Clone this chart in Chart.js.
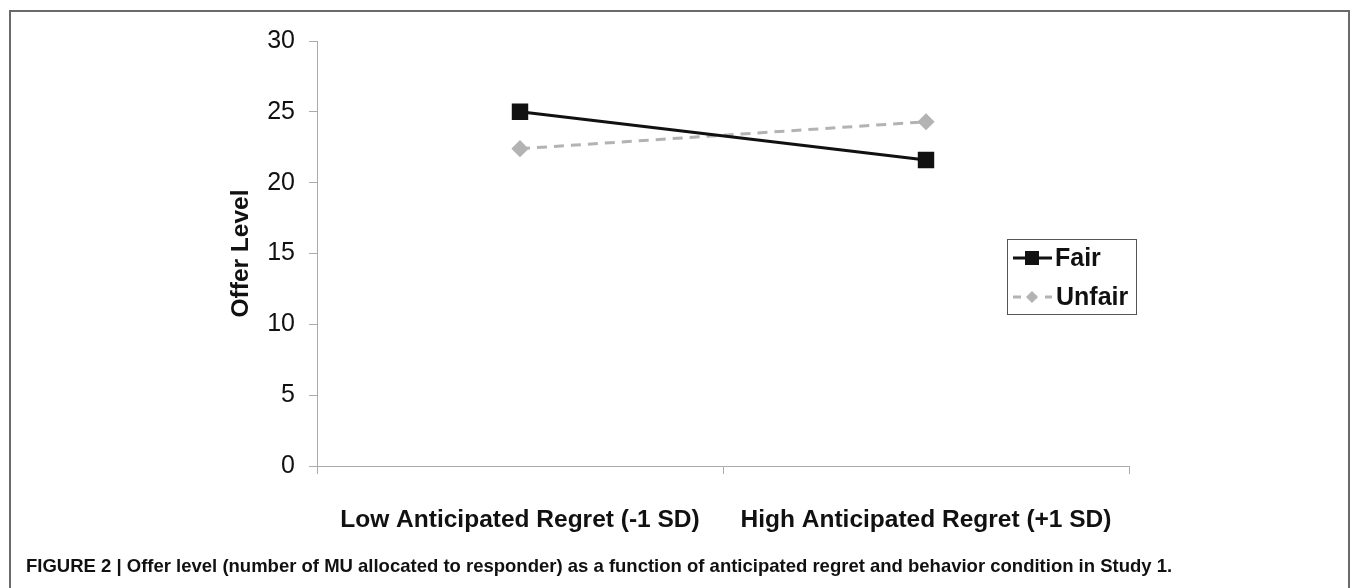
<!DOCTYPE html>
<html>
<head>
<meta charset="utf-8">
<script src="https://cdn.jsdelivr.net/npm/chart.js@4.4.0/dist/chart.umd.min.js"></script>
<style>
  html, body { margin: 0; padding: 0; background: #fff; }
  #wrap { position: relative; width: 1355px; height: 588px; overflow: hidden; }
  #frame {
    position: absolute; left: 9px; top: 10px; width: 1341px; height: 600px;
    border: 2px solid #6a6a6a; box-sizing: border-box;
  }
  #chart { position: absolute; left: 0; top: 0; }
  #caption {
    position: absolute; left: 26px; top: 555px;
    font: bold 18.5px "Liberation Sans", Arial, sans-serif; color: #111;
    white-space: nowrap; line-height: 22px;
  }
</style>
</head>
<body>
<div id="wrap">
  <div id="frame"></div>
  <canvas id="chart" width="1355" height="588"></canvas>
  <div id="caption">FIGURE 2 | Offer level (number of MU allocated to responder) as a function of anticipated regret and behavior condition in Study 1.</div>
</div>
<script>
const categories = ['Low Anticipated Regret (-1 SD)', 'High Anticipated Regret (+1 SD)'];
const fairValues = [25.0, 21.6];
const unfairValues = [22.4, 24.3];
const yTicks = [0, 5, 10, 15, 20, 25, 30];

const FONT = '"Liberation Sans", Arial, sans-serif';

// legend box drawn on top of the plot, like the original
const boxLegend = {
  id: 'boxLegend',
  afterDraw(chart) {
    const ctx = chart.ctx;
    const x = 1007, y = 239, w = 129, h = 75;
    ctx.save();
    ctx.fillStyle = '#fff';
    ctx.fillRect(x, y, w, h);
    ctx.strokeStyle = '#555';
    ctx.lineWidth = 1;
    ctx.strokeRect(x + 0.5, y + 0.5, w, h);
    chart.data.datasets.forEach((ds, i) => {
      const cy = y + 19 + i * 39;
      ctx.strokeStyle = ds.borderColor;
      ctx.lineWidth = 3;
      ctx.setLineDash(i === 0 ? [] : [8, 8]);
      ctx.beginPath();
      ctx.moveTo(x + 6, cy);
      ctx.lineTo(x + 45, cy);
      ctx.stroke();
      ctx.setLineDash([]);
      ctx.fillStyle = ds.pointBackgroundColor;
      ctx.beginPath();
      const px = x + 25;
      if (ds.pointStyle === 'rect') {
        ctx.rect(px - 7, cy - 7, 14, 14);
      } else {
        ctx.moveTo(px, cy - 6); ctx.lineTo(px + 6, cy);
        ctx.lineTo(px, cy + 6); ctx.lineTo(px - 6, cy);
        ctx.closePath();
      }
      ctx.fill();
      ctx.fillStyle = '#111';
      ctx.font = 'bold 25px ' + FONT;
      ctx.textBaseline = 'middle';
      ctx.fillText(ds.label, x + 48 + (i === 0 ? 0 : 1), cy + 1);
    });
    ctx.restore();
  }
};

new Chart(document.getElementById('chart'), {
  type: 'line',
  data: {
    labels: categories,
    datasets: [
      {
        label: 'Fair',
        data: fairValues,
        borderColor: '#111',
        borderWidth: 3,
        pointStyle: 'rect',
        pointRadius: 9.5,
        pointBackgroundColor: '#111',
        pointBorderColor: '#111',
        tension: 0
      },
      {
        label: 'Unfair',
        data: unfairValues,
        borderColor: '#b3b3b3',
        borderWidth: 3,
        borderDash: [10, 7],
        pointStyle: 'rectRot',
        pointRadius: 6.5,
        pointBackgroundColor: '#b3b3b3',
        pointBorderColor: '#b3b3b3',
        tension: 0
      }
    ]
  },
  options: {
    responsive: false,
    animation: false,
    layout: { padding: { top: 41, right: 226, left: 0, bottom: 0 } },
    plugins: { legend: { display: false }, tooltip: { enabled: false } },
    scales: {
      x: {
        offset: true,
        afterFit(scale) { scale.height = 122; },
        grid: { offset: true, drawOnChartArea: false, tickLength: 8, color: '#aaa' },
        border: { color: '#aaa', width: 1 },
        ticks: {
          color: '#111',
          padding: 32,
          font: { family: FONT, size: 24.5, weight: 'bold' }
        }
      },
      y: {
        min: 0,
        max: 30,
        afterFit(scale) { scale.width = 317; },
        afterBuildTicks(scale) { scale.ticks = yTicks.map(v => ({ value: v })); },
        grid: { drawOnChartArea: false, tickLength: 8, color: '#aaa' },
        border: { color: '#aaa', width: 1 },
        ticks: {
          color: '#111',
          padding: 14,
          font: { family: FONT, size: 25 }
        },
        title: {
          display: true,
          text: 'Offer Level',
          color: '#111',
          padding: { top: 227, bottom: 0 },
          font: { family: FONT, size: 24.5, weight: 'bold' }
        }
      }
    }
  },
  plugins: [boxLegend]
});
</script>
</body>
</html>
